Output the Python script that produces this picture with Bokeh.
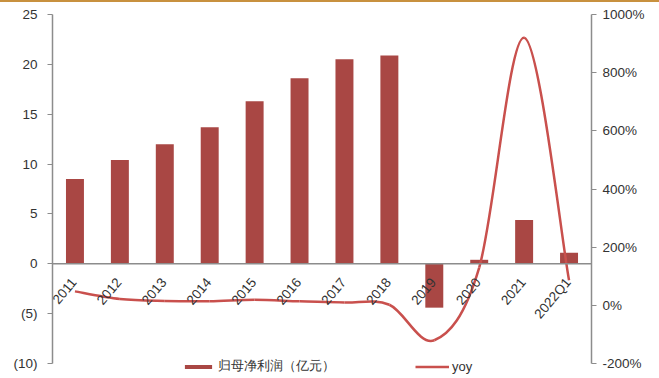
import numpy as np
from bokeh.plotting import figure
from bokeh.models import (Range1d, LinearAxis, FixedTicker, NumeralTickFormatter,
                          PrintfTickFormatter, Span, Legend, LegendItem, ColumnDataSource, Div)
from bokeh.layouts import column
from bokeh.core.properties import value
from bokeh.embed import file_html
from bokeh.resources import INLINE

categories = ["2011", "2012", "2013", "2014", "2015", "2016", "2017", "2018",
              "2019", "2020", "2021", "2022Q1"]
profit = [8.5, 10.4, 12.0, 13.7, 16.3, 18.6, 20.5, 20.9, -4.4, 0.4, 4.4, 1.1]
yoy = [48, 22, 15, 14, 19, 14, 10, 2, -120, 130, 920, 86]
left_ticks = [-10, -5, 0, 5, 10, 15, 20, 25]
right_ticks = [-200, 0, 200, 400, 600, 800, 1000]

BAR = "#A94744"
LINE = "#C9504D"
AXIS = "#8C8C8C"
TXT = "#333333"
FONT = "Liberation Sans"
FS = "13.5px"

# layout geometry (pixels)
FIG_H = 376
TOP = 12          # frame top inside figure
AXIS_SPAN = 349   # pixel height from 25 to -10
extra = FIG_H - TOP - AXIS_SPAN  # pixels below -10 kept for legend
lmin, lmax = left_ticks[0], left_ticks[-1]
rmin, rmax = right_ticks[0], right_ticks[-1]
l_low = lmin - (lmax - lmin) * extra / AXIS_SPAN
r_low = rmin - (rmax - rmin) * extra / AXIS_SPAN

x = np.arange(len(categories), dtype=float)

p = figure(width=659, height=FIG_H, output_backend="svg", toolbar_location=None,
           x_range=Range1d(-0.5, len(categories) - 0.5), y_range=Range1d(l_low, lmax),
           min_border_left=52, min_border_right=68, min_border_top=TOP, min_border_bottom=0,
           margin=(0, 0, 0, 0))
p.outline_line_color = None
p.grid.visible = False
p.xaxis.visible = False
p.extra_y_ranges = {"r": Range1d(r_low, rmax)}

# left axis
ya = p.yaxis[0]
ya.ticker = FixedTicker(ticks=left_ticks)
ya.bounds = (lmin, lmax)
ya.formatter = NumeralTickFormatter(format="(0)")
ya.axis_line_color = AXIS
ya.axis_line_width = 1.5
ya.major_tick_line_color = AXIS
ya.major_tick_out = 5
ya.major_tick_in = 0
ya.minor_tick_line_color = None
ya.major_label_text_font = FONT
ya.major_label_text_font_size = FS
ya.major_label_text_color = TXT
ya.major_label_standoff = 10

ra = LinearAxis(y_range_name="r", ticker=FixedTicker(ticks=right_ticks),
                formatter=PrintfTickFormatter(format="%d%%"), bounds=(rmin, rmax))
ra.axis_line_color = AXIS
ra.axis_line_width = 1.5
ra.major_tick_line_color = AXIS
ra.major_tick_out = 5
ra.major_tick_in = 0
ra.minor_tick_line_color = None
ra.major_label_text_font = FONT
ra.major_label_text_font_size = FS
ra.major_label_text_color = TXT
ra.major_label_standoff = 6
p.add_layout(ra, "right")

src = ColumnDataSource(dict(x=x, profit=profit, cat=categories, zero=[0] * len(x)))
bars = p.vbar(x="x", top="profit", bottom=0, width=0.4, source=src,
              fill_color=BAR, line_color=None)

p.add_layout(Span(location=0, dimension="width", line_color=AXIS, line_width=1.5))

# smoothed yoy line (Catmull-Rom style bezier through the data points)
y = np.array(yoy, dtype=float)
n = len(x)
x0, y0, x1, y1, cx0, cy0, cx1, cy1 = [], [], [], [], [], [], [], []
t = 1.0 / 6.0
for i in range(n - 1):
    pm = i - 1 if i > 0 else i
    pp = i + 2 if i + 2 < n else i + 1
    x0.append(x[i]); y0.append(y[i]); x1.append(x[i + 1]); y1.append(y[i + 1])
    cx0.append(x[i] + (x[i + 1] - x[pm]) * t)
    cy0.append(y[i] + (y[i + 1] - y[pm]) * t)
    cx1.append(x[i + 1] - (x[pp] - x[i]) * t)
    cy1.append(y[i + 1] - (y[pp] - y[i]) * t)
p.bezier(x0=x0, y0=y0, x1=x1, y1=y1, cx0=cx0, cy0=cy0, cx1=cx1, cy1=cy1,
         y_range_name="r", line_color=LINE, line_width=2.5)
line_leg = p.line(x=x[:1], y=y[:1], line_color=LINE, line_width=2.5, y_range_name="r")

# category labels under zero line
p.text(x="x", y="zero", text="cat", source=src, angle=50, angle_units="deg",
       text_align="right", text_baseline="middle", x_offset=-1, y_offset=16,
       text_font=value(FONT), text_font_size=FS, text_color=TXT)

legend = Legend(items=[LegendItem(label="归母净利润（亿元）", renderers=[bars]),
                       LegendItem(label="yoy", renderers=[line_leg])],
                orientation="horizontal", location=(129, 3),
                glyph_width=34, glyph_height=5, label_height=13, label_standoff=3,
                spacing=80, padding=0, margin=0, border_line_color=None,
                background_fill_alpha=0,
                label_text_font=FONT, label_text_font_size="13px", label_text_color=TXT)
p.add_layout(legend, "center")

top = Div(width=659, height=2, margin=(0, 0, 0, 0),
          styles={"background-color": "#C8913F"})
layout = column(top, p, spacing=0, margin=(0, 0, 0, 0))

open("out.html", "w").write(file_html(layout, INLINE))
